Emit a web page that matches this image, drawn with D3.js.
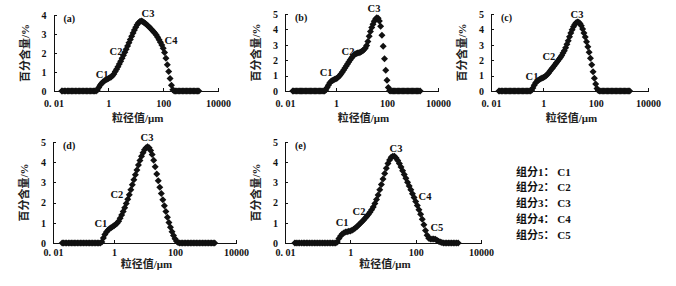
<!DOCTYPE html>
<html>
<head>
<meta charset="utf-8">
<script src="https://cdn.jsdelivr.net/npm/d3@7"></script>
<style>
  body { margin: 0; background: #fff; }
  svg { display: block; background: #fff; }
  .axis path, .axis line { stroke: #111; stroke-width: 1; shape-rendering: crispEdges; }
  .axis text { font-family: "Liberation Serif", "Times New Roman", serif; font-size: 10px; font-weight: bold; fill: #111; }
  .axis-title { font-family: "Liberation Serif", "Noto Sans CJK SC", serif; font-size: 11px; font-weight: bold; fill: #222; }
  .peak-label { font-family: "Liberation Serif", "Times New Roman", serif; font-size: 10.5px; font-weight: bold; fill: #111; }
  .panel-label { font-family: "Liberation Serif", "Times New Roman", serif; font-size: 10px; font-weight: bold; fill: #111; }
  .legend text { font-family: "Liberation Serif", "Noto Sans CJK SC", serif; font-size: 11px; font-weight: bold; fill: #111; }
</style>
</head>
<body>
<svg id="chart"></svg>
<script>
// grain size classes (µm)
const sizeClasses = [
  0.020, 0.022, 0.025, 0.028, 0.032, 0.036, 0.040, 0.045, 0.050, 0.056,
  0.063, 0.071, 0.080, 0.089, 0.100, 0.112, 0.126, 0.142, 0.159, 0.178,
  0.200, 0.224, 0.252, 0.283, 0.317, 0.356, 0.399, 0.448, 0.502, 0.564,
  0.632, 0.710, 0.796, 0.893, 1.002, 1.125, 1.262, 1.416, 1.589, 1.783,
  2.000, 2.244, 2.518, 2.825, 3.170, 3.557, 3.991, 4.477, 5.024, 5.637,
  6.325, 7.096, 7.962, 8.934, 10.02, 11.25, 12.62, 14.16, 15.89, 17.83,
  20.00, 22.44, 25.18, 28.25, 31.70, 35.57, 39.91, 44.77, 50.24, 56.37,
  63.25, 70.96, 79.62, 89.34, 100.2, 112.5, 126.2, 141.6, 158.9, 178.3,
  200.0, 224.4, 251.8, 282.5, 317.0, 355.7, 399.1, 447.7, 502.4, 563.7,
  632.5, 709.6, 796.2, 893.4, 1002, 1125, 1262, 1416, 1589, 1783,
  2000
];

// percent content (%) per class
const seriesA = [
  0, 0, 0, 0, 0, 0, 0, 0, 0, 0,
  0, 0, 0, 0, 0, 0, 0, 0, 0, 0,
  0, 0, 0, 0, 0, 0, 0.05, 0.18, 0.30, 0.40,
  0.47, 0.53, 0.58, 0.62, 0.66, 0.70, 0.74, 0.80, 0.90, 1.02,
  1.15, 1.28, 1.42, 1.56, 1.72, 1.88, 2.04, 2.20, 2.37, 2.54,
  2.71, 2.88, 3.05, 3.21, 3.36, 3.49, 3.59, 3.66, 3.68, 3.66,
  3.61, 3.55, 3.49, 3.42, 3.35, 3.28, 3.20, 3.12, 3.04, 2.95,
  2.83, 2.70, 2.56, 2.42, 2.25, 2.02, 1.72, 1.38, 1.02, 0.66,
  0.30, 0.06, 0, 0, 0, 0, 0, 0, 0, 0,
  0, 0, 0, 0, 0, 0, 0, 0, 0, 0,
  0
];
const seriesB = [
  0, 0, 0, 0, 0, 0, 0, 0, 0, 0,
  0, 0, 0, 0, 0, 0, 0, 0, 0, 0,
  0, 0, 0, 0, 0, 0, 0.06, 0.22, 0.38, 0.52,
  0.62, 0.68, 0.72, 0.76, 0.80, 0.85, 0.92, 1.01, 1.12, 1.24,
  1.37, 1.50, 1.63, 1.76, 1.89, 2.01, 2.13, 2.24, 2.33, 2.40,
  2.44, 2.47, 2.49, 2.52, 2.56, 2.62, 2.70, 2.80, 2.95, 3.22,
  3.55, 3.86, 4.12, 4.34, 4.53, 4.67, 4.75, 4.72, 4.55, 4.20,
  3.62, 2.90, 2.10, 1.35, 0.70, 0.22, 0.02, 0, 0, 0,
  0, 0, 0, 0, 0, 0, 0, 0, 0, 0,
  0, 0, 0, 0, 0, 0, 0, 0, 0, 0,
  0
];
const seriesC = [
  0, 0, 0, 0, 0, 0, 0, 0, 0, 0,
  0, 0, 0, 0, 0, 0, 0, 0, 0, 0,
  0, 0, 0, 0, 0, 0.05, 0.20, 0.38, 0.52, 0.62,
  0.69, 0.74, 0.79, 0.84, 0.88, 0.93, 0.99, 1.07, 1.17, 1.28,
  1.39, 1.50, 1.61, 1.72, 1.84, 1.95, 2.06, 2.18, 2.31, 2.46,
  2.62, 2.81, 3.03, 3.27, 3.52, 3.76, 3.98, 4.17, 4.32, 4.43,
  4.48, 4.47, 4.39, 4.24, 4.02, 3.76, 3.50, 3.20, 2.88, 2.52,
  2.12, 1.70, 1.25, 0.82, 0.45, 0.17, 0.03, 0, 0, 0,
  0, 0, 0, 0, 0, 0, 0, 0, 0, 0,
  0, 0, 0, 0, 0, 0, 0, 0, 0, 0,
  0
];
const seriesD = [
  0, 0, 0, 0, 0, 0, 0, 0, 0, 0,
  0, 0, 0, 0, 0, 0, 0, 0, 0, 0,
  0, 0, 0, 0, 0, 0, 0.05, 0.25, 0.42, 0.54,
  0.63, 0.70, 0.76, 0.81, 0.86, 0.91, 0.98, 1.08, 1.22, 1.38,
  1.56, 1.75, 1.95, 2.16, 2.39, 2.63, 2.88, 3.13, 3.38, 3.62,
  3.86, 4.08, 4.29, 4.47, 4.62, 4.72, 4.76, 4.71, 4.58, 4.38,
  4.10, 3.78, 3.42, 3.08, 2.76, 2.45, 2.14, 1.85, 1.56, 1.28,
  1.02, 0.78, 0.56, 0.37, 0.21, 0.09, 0.02, 0, 0, 0,
  0, 0, 0, 0, 0, 0, 0, 0, 0, 0,
  0, 0, 0, 0, 0, 0, 0, 0, 0, 0,
  0
];
const seriesE = [
  0, 0, 0, 0, 0, 0, 0, 0, 0, 0,
  0, 0, 0, 0, 0, 0, 0, 0, 0, 0,
  0, 0, 0, 0, 0, 0, 0.05, 0.22, 0.35, 0.44,
  0.50, 0.54, 0.56, 0.58, 0.60, 0.63, 0.68, 0.74, 0.81, 0.89,
  0.97, 1.05, 1.13, 1.22, 1.31, 1.41, 1.52, 1.64, 1.78, 1.95,
  2.15, 2.38, 2.63, 2.90, 3.17, 3.44, 3.70, 3.93, 4.11, 4.24,
  4.30, 4.29, 4.21, 4.08, 3.93, 3.76, 3.58, 3.39, 3.20, 3.01,
  2.82, 2.63, 2.44, 2.25, 2.06, 1.86, 1.65, 1.42, 1.17, 0.90,
  0.62, 0.38, 0.24, 0.20, 0.20, 0.20, 0.18, 0.14, 0.09, 0.05,
  0.02, 0, 0, 0, 0, 0, 0, 0, 0, 0,
  0
];

const xTickValues = [0.01, 1, 100, 10000];
const xTickLabels = ['0. 01', '1', '100', '10000'];
const yTicks4 = [0, 1, 2, 3, 4];
const yTicks5 = [0, 1, 2, 3, 4, 5];
const components = ['C1', 'C2', 'C3', 'C4', 'C5'];
const panelNames = ['(a)', '(b)', '(c)', '(d)', '(e)'];
const peaksA = ['C1', 'C2', 'C3', 'C4'];
const peaksB = ['C1', 'C2', 'C3'];
const peaksC = ['C1', 'C2', 'C3'];
const peaksD = ['C1', 'C2', 'C3'];
const peaksE = ['C1', 'C2', 'C3', 'C4', 'C5'];

const yTitle = '百分含量/%';
const xTitle = '粒径值/μm';

class PsdChart {

    constructor(_config, values, peaks) {
        this.config = {
            svg: _config.svg,
            name: _config.name,
            xStart: _config.xStart,   // pixel of 0.01
            xEnd: _config.xEnd,       // pixel of 10000
            yZero: _config.yZero,
            yTop: _config.yTop,
            yMax: _config.yMax,
            yTicks: _config.yTicks,
            tickPad: _config.tickPad,
            titleGap: _config.titleGap,
            peakPos: _config.peakPos,  // label anchors in data units
            markerR: 3.5
        }
        this.values = values;
        this.peaks = peaks;
        this.initVis();
    }

    initVis() {
        let vis = this;

        vis.xScale = d3.scaleLog()
            .domain([0.01, 10000])
            .range([vis.config.xStart, vis.config.xEnd]);

        vis.yScale = d3.scaleLinear()
            .domain([0, vis.config.yMax])
            .range([vis.config.yZero, vis.config.yTop]);

        vis.xAxis = d3.axisBottom(vis.xScale)
            .tickValues(xTickValues)
            .tickFormat((d, i) => xTickLabels[i])
            .tickSizeInner(-3)
            .tickSizeOuter(0)
            .tickPadding(vis.config.tickPad);

        vis.yAxis = d3.axisLeft(vis.yScale)
            .tickValues(vis.config.yTicks)
            .tickFormat(d3.format('d'))
            .tickSizeInner(-3)
            .tickSizeOuter(0)
            .tickPadding(7);

        vis.chart = vis.config.svg.append('g');

        vis.chart.append('g')
            .attr('class', 'axis x-axis')
            .attr('transform', `translate(0,${vis.config.yZero})`)
            .call(vis.xAxis);

        vis.chart.append('g')
            .attr('class', 'axis y-axis')
            .attr('transform', `translate(${vis.config.xStart},0)`)
            .call(vis.yAxis);

        // axis titles
        let midX = (vis.config.xStart + vis.config.xEnd) / 2 + 2;
        vis.chart.append('text')
            .attr('class', 'axis-title')
            .attr('x', midX)
            .attr('y', vis.config.yZero + vis.config.titleGap)
            .attr('text-anchor', 'middle')
            .text(xTitle);

        let midY = (vis.config.yZero + vis.config.yTop) / 2;
        vis.chart.append('text')
            .attr('class', 'axis-title')
            .attr('transform', `translate(${vis.config.xStart - 25},${midY}) rotate(-90)`)
            .attr('text-anchor', 'middle')
            .text(yTitle);

        vis.chart.append('text')
            .attr('class', 'panel-label')
            .attr('x', vis.config.xStart + 10)
            .attr('y', vis.config.yTop + 7)
            .text(vis.config.name);

        vis.renderVis();
    }

    renderVis() {
        let vis = this;
        let r = vis.config.markerR;
        let points = sizeClasses.map((s, i) => ({ size: s, pct: vis.values[i] }));

        vis.chart.append('g')
            .selectAll('.pt')
            .data(points)
            .join('path')
            .attr('class', 'pt')
            .attr('transform', d => `translate(${vis.xScale(d.size)},${vis.yScale(d.pct)})`)
            .attr('d', `M0,${-r}L${r},0L0,${r}L${-r},0Z`)
            .attr('fill', '#111');

        vis.chart.append('g')
            .selectAll('.peak-label')
            .data(vis.peaks)
            .join('text')
            .attr('class', 'peak-label')
            .attr('x', (d, i) => vis.xScale(vis.config.peakPos[i][0]))
            .attr('y', (d, i) => vis.yScale(vis.config.peakPos[i][1]))
            .attr('dy', '0.35em')
            .attr('text-anchor', 'middle')
            .text(d => d);
    }
}

const svg = d3.select('#chart')
    .attr('width', 676)
    .attr('height', 286);

new PsdChart({ svg: svg, name: panelNames[0], xStart: 53.5, xEnd: 218, yZero: 91, yTop: 15, yMax: 4, yTicks: yTicks4,
    tickPad: 9, titleGap: 31,
    peakPos: [[0.59, 0.89], [1.9, 2.1], [28, 4.1], [193, 2.68]] }, seriesA, peaksA);
new PsdChart({ svg: svg, name: panelNames[1], xStart: 285, xEnd: 438, yZero: 91, yTop: 14, yMax: 5, yTicks: yTicks5,
    tickPad: 9, titleGap: 31,
    peakPos: [[0.41, 1.23], [2.95, 2.6], [31, 5.39]] }, seriesB, peaksB);
new PsdChart({ svg: svg, name: panelNames[2], xStart: 491, xEnd: 648, yZero: 91, yTop: 14, yMax: 5, yTicks: yTicks5,
    tickPad: 9, titleGap: 31,
    peakPos: [[0.37, 0.97], [1.64, 2.27], [19.3, 5.0]] }, seriesC, peaksC);
new PsdChart({ svg: svg, name: panelNames[3], xStart: 53, xEnd: 236, yZero: 243, yTop: 142, yMax: 5, yTicks: yTicks5,
    tickPad: 6, titleGap: 25,
    peakPos: [[0.37, 0.99], [1.25, 2.43], [12.1, 5.25]] }, seriesD, peaksD);
new PsdChart({ svg: svg, name: panelNames[4], xStart: 285, xEnd: 481, yZero: 243, yTop: 142, yMax: 5, yTicks: yTicks5,
    tickPad: 6, titleGap: 25,
    peakPos: [[0.56, 1.04], [1.84, 1.58], [25, 4.7], [193, 2.33], [447, 0.78]] }, seriesE, peaksE);

// legend of components
svg.append('g')
    .attr('class', 'legend')
    .selectAll('text')
    .data(components)
    .join('text')
    .attr('x', 516)
    .attr('y', (d, i) => 175.5 + i * 15.8)
    .text((d, i) => `组分${i + 1}： ${d}`);
</script>
</body>
</html>
